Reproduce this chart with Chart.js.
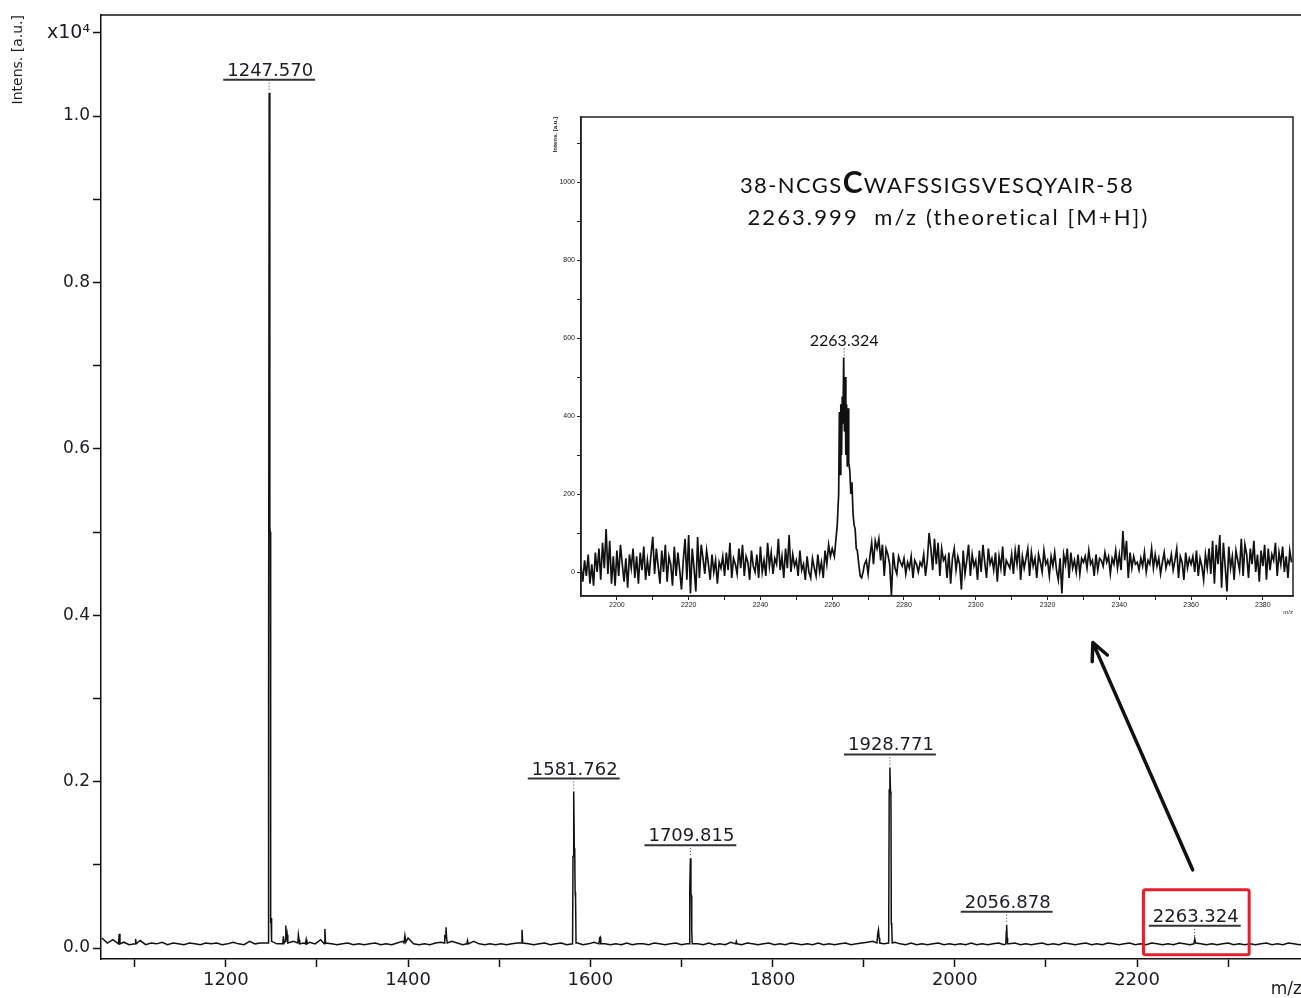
<!DOCTYPE html>
<html>
<head>
<meta charset="utf-8">
<script src="https://cdn.jsdelivr.net/npm/chart.js@4.4.1/dist/chart.umd.min.js"></script>
<style>
  html, body { margin: 0; padding: 0; background: #fff; overflow: hidden; width: 1301px; height: 998px; }
  #spectrum { position: absolute; left: 0; top: 0; }
  #zoomed { position: absolute; left: 535px; top: 108px; }
</style>
</head>
<body>
<canvas id="spectrum" width="1303" height="998"></canvas>
<canvas id="zoomed" width="766" height="522"></canvas>
<script>
// ---- main spectrum (intensity in x10^4 a.u.) ----
const baselineStart = 1064;
const baselineStep = 6;
const baselineIntens = [
  0.012, 0.006, 0.010, 0.005, 0.007, 0.004, 0.006, 0.009, 0.004, 0.006,
  0.005, 0.007, 0.004, 0.006, 0.005, 0.004, 0.006, 0.005, 0.004, 0.006,
  0.005, 0.006, 0.004, 0.005, 0.007, 0.005, 0.004, 0.008, 0.005, 0.006,
  0.006, 0.008, 0.005, 0.010, 0.014, 0.008, 0.012, 0.006, 0.007, 0.005,
  0.010, 0.006, 0.005, 0.004, 0.005, 0.006, 0.004, 0.005, 0.004, 0.005,
  0.006, 0.004, 0.005, 0.004, 0.006, 0.008, 0.012, 0.005, 0.004, 0.005,
  0.004, 0.006, 0.007, 0.012, 0.008, 0.006, 0.004, 0.005, 0.008, 0.005,
  0.004, 0.005, 0.004, 0.005, 0.004, 0.005, 0.006, 0.008, 0.005, 0.004,
  0.005, 0.006, 0.004, 0.005, 0.006, 0.004, 0.005, 0.006, 0.004, 0.005,
  0.007, 0.005, 0.005, 0.004, 0.005, 0.004, 0.006, 0.004, 0.005, 0.005,
  0.004, 0.006, 0.005, 0.004, 0.005, 0.006, 0.004, 0.005, 0.004, 0.005,
  0.004, 0.006, 0.004, 0.005, 0.004, 0.007, 0.005, 0.004, 0.006, 0.005,
  0.004, 0.005, 0.006, 0.004, 0.005, 0.004, 0.006, 0.005, 0.004, 0.005,
  0.004, 0.006, 0.004, 0.005, 0.004, 0.005, 0.006, 0.004, 0.005, 0.006,
  0.007, 0.008, 0.006, 0.005, 0.012, 0.007, 0.005, 0.004, 0.006, 0.004,
  0.005, 0.004, 0.005, 0.006, 0.004, 0.005, 0.004, 0.005, 0.004, 0.006,
  0.004, 0.005, 0.004, 0.005, 0.006, 0.004, 0.005, 0.006, 0.004, 0.005,
  0.004, 0.005, 0.006, 0.004, 0.005, 0.004, 0.006, 0.005, 0.004, 0.005,
  0.006, 0.004, 0.005, 0.004, 0.006, 0.005, 0.004, 0.005, 0.006, 0.004,
  0.005, 0.004, 0.006, 0.005, 0.004, 0.005, 0.004, 0.006, 0.005, 0.004,
  0.006, 0.005, 0.004, 0.005, 0.004, 0.005, 0.006, 0.004, 0.005, 0.004,
  0.005, 0.004, 0.005, 0.006, 0.004, 0.005, 0.004, 0.006, 0.005, 0.004,
  0.005, 0.004, 0.005
];

// peak profiles, one line per peak
const peakMz = [
  1082.2, 1083.0, 1083.8,
  1100.4, 1101.0, 1101.6,
  1246.4, 1246.9, 1247.57, 1248.3, 1248.8, 1249.2, 1249.6, 1250.2,
  1262.5, 1263.2, 1264.0, 1265.2, 1265.8, 1266.5, 1267.3, 1268.0,
  1279.0, 1279.6, 1280.4, 1281.0,
  1287.5, 1288.2, 1289.0,
  1308.0, 1308.7, 1309.5,
  1395.5, 1396.5, 1397.5,
  1439.5, 1440.3, 1441.0, 1441.6, 1442.3, 1443.0,
  1464.5, 1465.2, 1466.0,
  1524.3, 1525.0, 1525.8,
  1580.5, 1581.0, 1581.762, 1582.4, 1582.9, 1583.3, 1583.8, 1584.3,
  1609.5, 1610.2, 1610.8, 1611.5,
  1708.5, 1709.1, 1709.815, 1710.4, 1710.9, 1711.3, 1711.8,
  1759.5, 1760.2, 1761.0,
  1914.5, 1915.5, 1916.2, 1917.0, 1917.6,
  1927.4, 1928.0, 1928.771, 1929.4, 1929.9, 1930.3, 1930.8, 1931.3,
  2056.0, 2056.5, 2056.878, 2057.4, 2057.9,
  2262.4, 2263.324, 2264.2
];
const peakIntens = [
  0.005, 0.017, 0.005,
  0.005, 0.011, 0.005,
  0.006, 0.32, 1.028, 0.505, 0.50, 0.03, 0.036, 0.008,
  0.005, 0.014, 0.006, 0.008, 0.027, 0.010, 0.016, 0.006,
  0.006, 0.016, 0.010, 0.005,
  0.005, 0.010, 0.005,
  0.005, 0.023, 0.006,
  0.006, 0.015, 0.007,
  0.006, 0.016, 0.012, 0.025, 0.012, 0.006,
  0.005, 0.009, 0.005,
  0.006, 0.022, 0.006,
  0.005, 0.11, 0.188, 0.12, 0.115, 0.067, 0.06, 0.006,
  0.005, 0.012, 0.013, 0.005,
  0.005, 0.07, 0.108, 0.066, 0.063, 0.02, 0.005,
  0.005, 0.008, 0.005,
  0.006, 0.018, 0.022, 0.012, 0.006,
  0.006, 0.19, 0.217, 0.188, 0.185, 0.03, 0.026, 0.006,
  0.005, 0.02, 0.028, 0.012, 0.005,
  0.005, 0.011, 0.006
];

const labelledPeaks = [1247.570, 1581.762, 1709.815, 1928.771, 2056.878, 2263.324];
const labelledHeights = [1.028, 0.188, 0.108, 0.217, 0.028, 0.011];

const mainXTicks = [1100, 1200, 1300, 1400, 1500, 1600, 1700, 1800, 1900, 2000, 2100, 2200, 2300];
const mainXLabels = [1200, 1400, 1600, 1800, 2000, 2200];
const mainYTicks = [0, 0.1, 0.2, 0.3, 0.4, 0.5, 0.6, 0.7, 0.8, 0.9, 1.0, 1.1];

// annotations, in data units
const redBox = { from: 2207, to: 2323, top: 0.07, bottom: -0.008 };
const arrowFrom = { x: 2261, y: 0.094 };
const arrowTo = { x: 2151.5, y: 0.367 };

// ---- zoomed inset (a.u.), one row = 10 m/z ----
const insetStart = 2190;
const insetStep = 0.5;
const insetNoise = [
  15, -25, 30, -10, 45, -30, 20, -35, 50, 0, 60, -20, 75, 10, 110, -5, 80, -30, 40, -35,
  55, -10, 70, 20, -25, 35, -40, 45, 10, 60, -15, 40, -30, 50, 5, 65, -20, 30, -10, 45,
  90, -5, 60, 15, -30, 55, 0, 70, -25, 40, 20, -35, 65, -10, 50, 5, -45, 30, 85, -20,
  95, -55, 60, 10, -50, 90, -15, 70, 35, -5, 55, 20, -20, 45, 0, 30, -30, 25, 10, 40,
  -10, 50, 5, 75, -15, 35, 20, -5, 60, 10, 70, -10, 40, 25, -20, 55, 15, 0, 45, -15,
  65, 0, 30, -10, 75, 15, 50, -5, 35, 20, 85, 5, 40, -15, 60, 10, 95, 0, 45, 15,
  30, -10, 55, 5, 20, -20, 40, 0, -15, 35, 10, -10, 45, 0, 25, -15, 55, 20, 70, 40,
  60, 80, 120, 300, 420, 500, 430, 280, 200, 120, 80, 40, 0, -20, -10, 10, 20, -10, 5, 30,
  -5, 40, 75, 20, 80, 60, 85, 30, 70, -10, 60, 45, 20, -60, 50, 10, -5, 40, 25, 15,
  35, -5, 25, 10, 40, -15, 30, 20, 0, 25, 15, 45, -10, 30, 100, 60, 5, 85, 20, 75,
  -10, 60, 30, 40, -15, 50, -30, 35, 60, 5, 40, 20, -45, 55, -5, 30, 70, -10, 45, 15,
  30, -20, 55, 0, 70, 25, -15, 60, 20, 35, 5, 50, -25, 40, 10, 65, -10, 30, 20, 10,
  45, -5, 55, 20, 70, -20, 40, 10, 35, 60, -10, 50, 15, 35, -15, 45, 25, 0, 55, 20,
  30, -10, 40, 15, 50, 5, -20, 35, -55, 45, 20, 60, -15, 50, 10, 30, 0, 45, -5, 35,
  25, 40, 10, 55, 20, 30, -10, 45, 5, 35, 30, 15, 50, 25, 40, -5, 35, 20, 55, 10,
  45, 5, 105, 30, 80, -15, 50, 10, 40, 20, 25, 5, 35, 15, 50, 0, 30, 20, 60, 10,
  45, 15, 35, -5, 25, 50, 10, 30, 20, 45, 5, 30, 60, -15, 40, 25, -20, 50, 10, 35,
  20, 40, 0, 55, -10, 35, 15, -20, 45, 10, 60, -5, 80, -30, 70, 20, 95, -40, 75, 15,
  -50, 65, 10, 40, -20, 55, 30, 5, 85, -10, 70, 45, -15, 60, 20, 80, 0, 45, -25, 55,
  15, 70, -20, 60, 5, 45, 30, 75, -10, 50, 20, 65, 0, 40, -15, 55, 25
];
const insetPeakMz = [
  2260.6, 2261.0, 2261.4, 2261.8, 2262.0, 2262.2, 2262.4, 2262.6, 2262.8,
  2263.0, 2263.2, 2263.4, 2263.6, 2263.8, 2264.0, 2264.2, 2264.4, 2264.6, 2264.9,
  2265.2, 2265.5, 2265.8, 2266.1, 2266.4, 2266.7, 2267.0, 2267.4, 2267.8, 2268.2, 2268.6, 2269.0
];
const insetPeakIntens = [
  40, 80, 120, 200, 410, 250, 430, 300, 450,
  380, 550, 360, 500, 300, 430, 270, 420, 280, 260,
  200, 230, 150, 120, 110, 60, 55, 20, -10, -15, 0, 20
];
const insetLabelMz = 2263.324;
const insetLabelTop = 550;
const insetXTicks = [2200, 2210, 2220, 2230, 2240, 2250, 2260, 2270, 2280, 2290, 2300, 2310, 2320, 2330, 2340, 2350, 2360, 2370, 2380];
const insetYTicks = [0, 100, 200, 300, 400, 500, 600, 700, 800, 900, 1000, 1100];
const insetTitle1 = ['38-NCGS', 'C', 'WAFSSIGSVESQYAIR-58'];
const insetTitle2 = '2263.999  m/z (theoretical [M+H])';

// merge a uniform noise trace with explicit peak points
function buildTrace(start, step, noise, pkMz, pkInt, gap) {
  const pts = pkMz.map((x, i) => ({ x: x, y: pkInt[i] }));
  noise.forEach((v, i) => {
    const x = start + i * step;
    if (!pkMz.some(m => Math.abs(m - x) < gap)) pts.push({ x: x, y: v });
  });
  return pts.sort((a, b) => a.x - b.x);
}

const mainPoints = buildTrace(baselineStart, baselineStep, baselineIntens, peakMz, peakIntens, 1.5);
const insetPoints = buildTrace(insetStart, insetStep, insetNoise, insetPeakMz, insetPeakIntens, 0.5);

const textColor = '#1c1c24';

const spectrumDecor = {
  id: 'spectrumDecor',
  beforeDraw(chart) {
    const ctx = chart.ctx;
    ctx.save();
    ctx.fillStyle = '#fff';
    ctx.fillRect(0, 0, chart.width, chart.height);
    ctx.restore();
  },
  afterDraw(chart) {
    const { ctx, chartArea: a } = chart;
    const x = chart.scales.x, y = chart.scales.y;
    ctx.save();
    ctx.strokeStyle = '#111';
    ctx.lineWidth = 1.5;
    ctx.beginPath();
    ctx.moveTo(a.left, a.top);
    ctx.lineTo(a.right, a.top);
    ctx.lineTo(a.right, a.bottom);
    ctx.stroke();

    // peak labels
    ctx.font = '18px "DejaVu Sans"';
    ctx.textAlign = 'center';
    ctx.textBaseline = 'alphabetic';
    labelledPeaks.forEach((mz, i) => {
      const px = x.getPixelForValue(mz);
      const py = y.getPixelForValue(labelledHeights[i]);
      const text = mz.toFixed(3);
      const w = ctx.measureText(text).width;
      ctx.fillStyle = textColor;
      ctx.fillText(text, px + 1, py - 17);
      ctx.strokeStyle = '#333';
      ctx.lineWidth = 2;
      ctx.beginPath();
      ctx.moveTo(px - w / 2 - 3, py - 13);
      ctx.lineTo(px + w / 2 + 3, py - 13);
      ctx.stroke();
      ctx.lineWidth = 1;
      ctx.setLineDash([1, 2]);
      ctx.beginPath();
      ctx.moveTo(px, py - 10);
      ctx.lineTo(px, py - 1);
      ctx.stroke();
      ctx.setLineDash([]);
    });

    // red box round the small peak
    const bx0 = x.getPixelForValue(redBox.from), bx1 = x.getPixelForValue(redBox.to);
    const by0 = y.getPixelForValue(redBox.top), by1 = y.getPixelForValue(redBox.bottom);
    ctx.strokeStyle = '#e3202b';
    ctx.lineWidth = 3;
    ctx.beginPath();
    ctx.roundRect(bx0, by0, bx1 - bx0, by1 - by0, 2);
    ctx.stroke();

    // arrow towards the inset
    const sx = x.getPixelForValue(arrowFrom.x), sy = y.getPixelForValue(arrowFrom.y);
    const tx = x.getPixelForValue(arrowTo.x), ty = y.getPixelForValue(arrowTo.y);
    const ang = Math.atan2(ty - sy, tx - sx);
    ctx.strokeStyle = '#111';
    ctx.lineWidth = 3.5;
    ctx.lineCap = 'round';
    ctx.lineJoin = 'round';
    ctx.beginPath();
    ctx.moveTo(sx, sy);
    ctx.lineTo(tx, ty);
    ctx.moveTo(tx - 19 * Math.cos(ang - 0.45), ty - 19 * Math.sin(ang - 0.45));
    ctx.lineTo(tx, ty);
    ctx.lineTo(tx - 19 * Math.cos(ang + 0.45), ty - 19 * Math.sin(ang + 0.45));
    ctx.stroke();
    ctx.restore();
  }
};

new Chart(document.getElementById('spectrum'), {
  type: 'line',
  data: {
    datasets: [{
      data: mainPoints,
      borderColor: '#111',
      borderWidth: 1.5,
      pointRadius: 0,
      tension: 0,
      fill: false
    }]
  },
  options: {
    responsive: false,
    animation: false,
    events: [],
    layout: { padding: { top: 15, right: 1, left: 0, bottom: 0 } },
    plugins: { legend: { display: false }, tooltip: { enabled: false } },
    scales: {
      x: {
        type: 'linear',
        min: 1063,
        max: 2381,
        afterBuildTicks: s => { s.ticks = mainXTicks.map(v => ({ value: v })); },
        afterFit: s => { s.height = 39; },
        ticks: {
          autoSkip: false,
          maxRotation: 0,
          padding: 3,
          color: textColor,
          font: { family: '"DejaVu Sans"', size: 18 },
          callback: v => mainXLabels.includes(v) ? String(v) : ''
        },
        grid: { drawOnChartArea: false, tickLength: 8, tickWidth: 1.5, tickColor: '#111' },
        border: { color: '#111', width: 1.5 },
        title: {
          display: true, text: 'm/z', align: 'end', color: textColor,
          font: { family: '"DejaVu Sans"', size: 17, lineHeight: 1 },
          padding: { top: 0, bottom: 0 }
        }
      },
      y: {
        min: -0.0132,
        max: 1.1214,
        afterBuildTicks: s => { s.ticks = mainYTicks.map(v => ({ value: v })); },
        afterFit: s => { s.width = 101; },
        ticks: {
          autoSkip: false,
          padding: 3,
          color: textColor,
          font: c => ({ family: '"DejaVu Sans"', size: (c.tick && c.tick.value === 1.1) ? 19 : 17 }),
          callback: v => v === 1.1 ? 'x10\u2074' : (Math.round(v * 10) % 2 === 0 ? v.toFixed(1) : '')
        },
        grid: { drawOnChartArea: false, tickLength: 8, tickWidth: 1.5, tickColor: '#111' },
        border: { color: '#111', width: 1.5 },
        title: {
          display: true, text: 'Intens. [a.u.]', align: 'end', color: textColor,
          font: { family: '"DejaVu Sans"', size: 14, lineHeight: 1 },
          padding: { top: 11, bottom: 11 }
        }
      }
    }
  },
  plugins: [spectrumDecor]
});

const insetDecor = {
  id: 'insetDecor',
  beforeDraw(chart) {
    const ctx = chart.ctx;
    ctx.save();
    ctx.fillStyle = '#fff';
    ctx.fillRect(0, 0, chart.width, chart.height);
    ctx.restore();
  },
  afterDraw(chart) {
    const { ctx, chartArea: a } = chart;
    const x = chart.scales.x, y = chart.scales.y;
    ctx.save();
    ctx.strokeStyle = '#222';
    ctx.lineWidth = 1.5;
    ctx.strokeRect(a.left, a.top, a.right - a.left, a.bottom - a.top);

    // title lines
    ctx.fillStyle = '#111';
    ctx.textBaseline = 'alphabetic';
    ctx.textAlign = 'left';
    ctx.letterSpacing = '1.4px';
    const normal = '22px Lato', big = 'bold 30px Lato';
    ctx.font = normal;
    const w1 = ctx.measureText(insetTitle1[0]).width;
    const w3 = ctx.measureText(insetTitle1[2]).width;
    ctx.font = big;
    const w2 = ctx.measureText(insetTitle1[1]).width;
    const cx1 = a.left + 0.5 * (a.right - a.left);
    const tx = cx1 - (w1 + w2 + w3) / 2;
    const by1 = a.top + 76;
    ctx.font = normal;
    ctx.fillText(insetTitle1[0], tx, by1);
    ctx.font = big;
    ctx.fillText(insetTitle1[1], tx + w1, by1);
    ctx.font = normal;
    ctx.fillText(insetTitle1[2], tx + w1 + w2, by1);
    ctx.letterSpacing = '2.1px';
    ctx.textAlign = 'center';
    ctx.fillText(insetTitle2, a.left + 0.516 * (a.right - a.left), a.top + 108);
    ctx.letterSpacing = '0px';

    // peak label
    const px = x.getPixelForValue(insetLabelMz);
    const py = y.getPixelForValue(insetLabelTop);
    ctx.font = '16px Lato';
    ctx.fillText(insetLabelMz.toFixed(3), px, py - 12);
    ctx.strokeStyle = '#333';
    ctx.lineWidth = 1;
    ctx.setLineDash([1, 2]);
    ctx.beginPath();
    ctx.moveTo(px, py - 9);
    ctx.lineTo(px, py);
    ctx.stroke();
    ctx.restore();
  }
};

new Chart(document.getElementById('zoomed'), {
  type: 'line',
  data: {
    datasets: [{
      data: insetPoints,
      borderColor: '#111',
      borderWidth: 1.7,
      pointRadius: 0,
      tension: 0,
      fill: false
    }]
  },
  options: {
    responsive: false,
    animation: false,
    events: [],
    layout: { padding: { top: 9, right: 8, left: 0, bottom: 0 } },
    plugins: { legend: { display: false }, tooltip: { enabled: false } },
    scales: {
      x: {
        type: 'linear',
        min: 2190,
        max: 2388.4,
        afterBuildTicks: s => { s.ticks = insetXTicks.map(v => ({ value: v })); },
        afterFit: s => { s.height = 34; },
        ticks: {
          autoSkip: false,
          maxRotation: 0,
          padding: 1,
          color: '#222',
          font: { family: '"Liberation Sans"', size: 7 },
          callback: v => v % 20 === 0 ? String(v) : ''
        },
        grid: { drawOnChartArea: false, tickLength: 4, tickWidth: 1, tickColor: '#222' },
        border: { color: '#222', width: 1.5 },
        title: {
          display: true, text: 'm/z', align: 'end', color: '#222',
          font: { family: '"Liberation Sans"', size: 6, lineHeight: 1 },
          padding: { top: 0, bottom: 15 }
        }
      },
      y: {
        min: -61.5,
        max: 1166.7,
        afterBuildTicks: s => { s.ticks = insetYTicks.map(v => ({ value: v })); },
        afterFit: s => { s.width = 46; },
        ticks: {
          autoSkip: false,
          padding: 2,
          color: '#222',
          font: { family: '"Liberation Sans"', size: 7 },
          callback: v => (v % 200 === 0 && v <= 1000) ? String(v) : ''
        },
        grid: { drawOnChartArea: false, tickLength: 4, tickWidth: 1, tickColor: '#222' },
        border: { color: '#222', width: 1.5 },
        title: {
          display: true, text: 'Intens. [a.u.]', align: 'end', color: '#222',
          font: { family: '"Liberation Sans"', size: 6, weight: 'bold', lineHeight: 1 },
          padding: { top: 17, bottom: 17 }
        }
      }
    }
  },
  plugins: [insetDecor]
});
</script>
</body>
</html>
